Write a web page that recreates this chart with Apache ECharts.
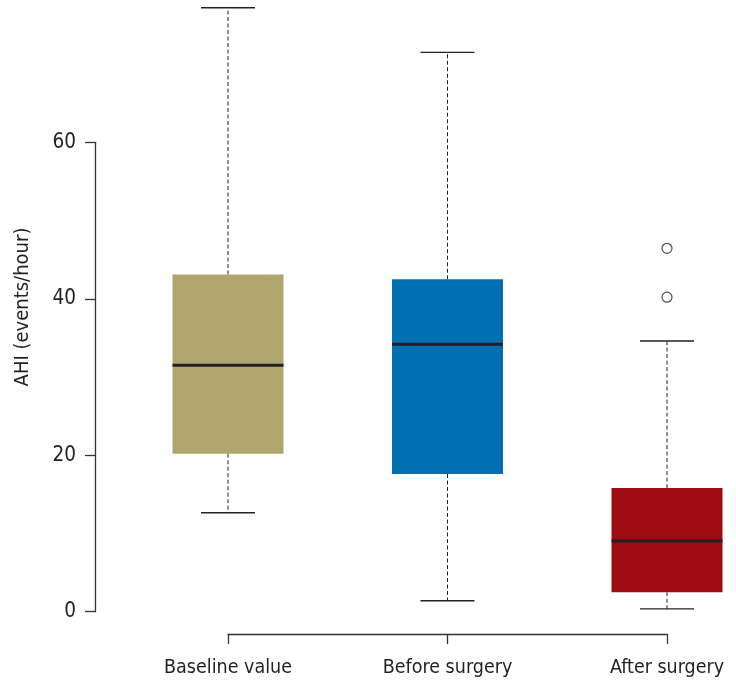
<!DOCTYPE html>
<html>
<head>
<meta charset="utf-8">
<script src="https://cdn.jsdelivr.net/npm/echarts@6/dist/echarts.min.js"></script>
<style>
html,body{margin:0;padding:0;background:#fff;}
#chart{width:736px;height:683px;}
</style>
</head>
<body>
<div id="chart"></div>
<script>
// ---- data ----
var categories = ['Baseline value', 'Before surgery', 'After surgery'];
var lowWhisker = [12.65, 1.4, 0.35];
var q1 = [20.2, 17.6, 2.5];
var median = [31.5, 34.2, 9.05];
var q3 = [43.1, 42.5, 15.8];
var highWhisker = [77.2, 71.5, 34.6];
var outlierCategory = ['After surgery', 'After surgery'];
var outlierValues = [46.45, 40.2];
var yMin = 0, yMax = 60, yInterval = 20;
var yAxisName = 'AHI (events/hour)';

// ---- styles ----
var boxColors = ['#B0A46F', '#0070B3', '#9E0B12'];
var FONT = '"DejaVu Sans Condensed", "DejaVu Sans", sans-serif';
var TEXT = '#231F20';

var boxData = categories.map(function (c, i) {
  return [i, lowWhisker[i], q1[i], median[i], q3[i], highWhisker[i]];
});
var outlierData = outlierCategory.map(function (c, i) {
  return [c, outlierValues[i]];
});

function renderBox(params, api) {
  var i = api.value(0);
  var pLow = api.coord([i, api.value(1)]);
  var pQ1 = api.coord([i, api.value(2)]);
  var pMed = api.coord([i, api.value(3)]);
  var pQ3 = api.coord([i, api.value(4)]);
  var pHigh = api.coord([i, api.value(5)]);
  var band = api.size([1, 0])[0];
  var half = band * 0.2528;
  var capHalf = band * 0.123;
  var cx = pMed[0];
  var dash = { stroke: '#222', lineWidth: 1, lineDash: [4, 2.5] };
  var solid = { stroke: '#222', lineWidth: 1.3 };
  return {
    type: 'group',
    children: [
      { type: 'line', shape: { x1: cx, y1: pQ3[1], x2: cx, y2: pHigh[1] }, style: dash },
      { type: 'line', shape: { x1: cx, y1: pQ1[1], x2: cx, y2: pLow[1] }, style: dash },
      { type: 'line', shape: { x1: cx - capHalf, y1: pHigh[1], x2: cx + capHalf, y2: pHigh[1] }, style: solid },
      { type: 'line', shape: { x1: cx - capHalf, y1: pLow[1], x2: cx + capHalf, y2: pLow[1] }, style: solid },
      { type: 'rect', shape: { x: cx - half, y: pQ3[1], width: half * 2, height: pQ1[1] - pQ3[1] },
        style: { fill: boxColors[params.dataIndex] } },
      { type: 'line', shape: { x1: cx - half, y1: pMed[1], x2: cx + half, y2: pMed[1] },
        style: { stroke: '#231F20', lineWidth: 3 } }
    ]
  };
}

var chart = echarts.init(document.getElementById('chart'), null, { renderer: 'canvas' });
chart.setOption({
  backgroundColor: '#ffffff',
  animation: false,
  grid: { left: 228, right: 69, top: 142.3, bottom: 71.3, containLabel: false, outerBoundsMode: 'none' },
  xAxis: {
    type: 'category',
    data: categories,
    boundaryGap: false,
    offset: 22.3,
    axisLine: { show: true, onZero: false, lineStyle: { color: '#333', width: 1.3 } },
    axisTick: { show: true, inside: false, length: 10, lineStyle: { color: '#333', width: 1.3 } },
    axisLabel: { margin: 24, color: TEXT, fontFamily: FONT, fontSize: 19.5, interval: 0 },
    splitLine: { show: false }
  },
  yAxis: {
    type: 'value',
    min: yMin,
    max: yMax,
    interval: yInterval,
    offset: 133,
    name: yAxisName,
    nameLocation: 'middle',
    nameGap: 62,
    nameTextStyle: { color: TEXT, fontFamily: FONT, fontSize: 20, padding: [0, 0, 0, 140] },
    axisLine: { show: true, onZero: false, lineStyle: { color: '#333', width: 1.3 } },
    axisTick: { show: true, inside: false, length: 10, lineStyle: { color: '#333', width: 1.3 } },
    axisLabel: { margin: 19, color: TEXT, fontFamily: FONT, fontSize: 20.5 },
    splitLine: { show: false }
  },
  series: [
    {
      type: 'custom',
      renderItem: renderBox,
      data: boxData,
      encode: { x: 0, y: [1, 2, 3, 4, 5] },
      clip: false,
      z: 2
    },
    {
      type: 'scatter',
      data: outlierData,
      symbol: 'circle',
      symbolSize: 10,
      itemStyle: { color: '#fff', borderColor: '#222', borderWidth: 1.2 },
      z: 3
    }
  ]
});
</script>
</body>
</html>
